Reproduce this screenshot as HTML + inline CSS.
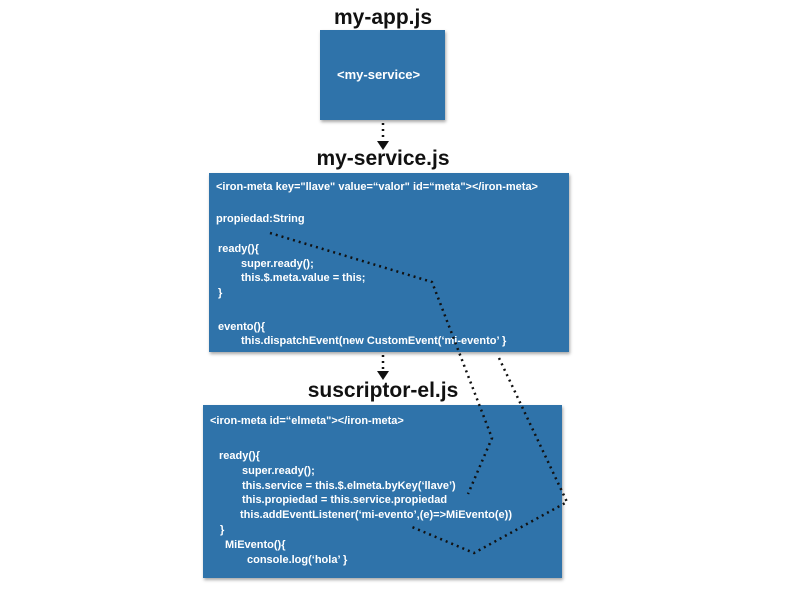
<!DOCTYPE html>
<html><head><meta charset="utf-8"><style>
body{margin:0;width:800px;height:600px;background:#fff;position:relative;overflow:hidden;font-family:"Liberation Sans",Arial,sans-serif}
.t{position:absolute;font-weight:bold;color:#111;text-align:center;width:400px;font-size:21px}
.b{position:absolute;background:#2f73aa;box-shadow:1px 2px 3px rgba(0,0,0,.35);color:#fff;font-weight:bold;font-size:11px}
.b div{position:absolute;white-space:pre}
</style></head><body>
<div class="t" style="left:183px;top:6px">my-app.js</div>
<div class="b" style="left:320px;top:30px;width:125px;height:90px"><div style="left:17px;top:37px;font-size:13px">&lt;my-service&gt;</div></div>
<div class="t" style="left:183px;top:147px">my-service.js</div>
<div class="b" style="left:209px;top:173px;width:360px;height:179px">
<div style="left:7px;top:8px">&lt;iron-meta key="llave" value=“valor" id=“meta"&gt;&lt;/iron-meta&gt;</div>
<div style="left:7px;top:40px">propiedad:String</div>
<div style="left:9px;top:70px">ready(){</div>
<div style="left:32px;top:85px">super.ready();</div>
<div style="left:32px;top:99px">this.$.meta.value = this;</div>
<div style="left:9px;top:114px">}</div>
<div style="left:9px;top:148px">evento(){</div>
<div style="left:32px;top:162px">this.dispatchEvent(new CustomEvent(‘mi-evento’ }</div>
</div>
<div class="t" style="left:183px;top:379px">suscriptor-el.js</div>
<div class="b" style="left:203px;top:405px;width:359px;height:173px">
<div style="left:7px;top:10px">&lt;iron-meta id=“elmeta"&gt;&lt;/iron-meta&gt;</div>
<div style="left:16px;top:45px">ready(){</div>
<div style="left:39px;top:60px">super.ready();</div>
<div style="left:39px;top:75px">this.service = this.$.elmeta.byKey(‘llave’)</div>
<div style="left:39px;top:89px">this.propiedad = this.service.propiedad</div>
<div style="left:37px;top:104px">this.addEventListener(‘mi-evento’,(e)=&gt;MiEvento(e))</div>
<div style="left:17px;top:119px">}</div>
<div style="left:22px;top:134px">MiEvento(){</div>
<div style="left:44px;top:149px">console.log(‘hola’ }</div>
</div>
<svg width="800" height="600" style="position:absolute;left:0;top:0">
<g fill="none" stroke="#111" stroke-width="2.5" stroke-dasharray="2 4" stroke-linecap="butt">
<path d="M383 123 L383 142"/>
<path d="M383 355 L383 372"/>
<path d="M270 233 L432 282 L492 438 L468 494"/>
<path d="M499 358 L567 502 L474 553 L412 527"/>
</g>
<path d="M377 141 L389 141 L383 150 Z" fill="#111"/>
<path d="M377 371 L389 371 L383 380 Z" fill="#111"/>
</svg>
</body></html>
